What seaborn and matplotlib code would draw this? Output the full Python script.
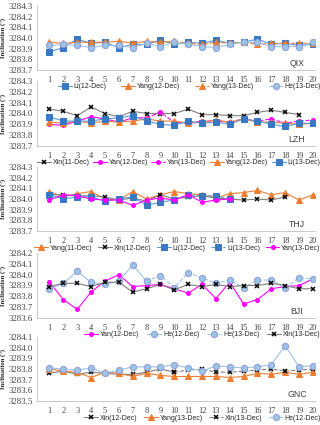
import numpy as np
import matplotlib.pyplot as plt
import seaborn as sns

nan = np.nan
points = list(range(1, 21))

# QIX
qix_li12 = [3283.87, 3283.91, 3283.99, 3283.95, 3283.96, 3283.91, 3283.94, 3283.94, 3283.98, 3283.94,
            3283.96, 3283.95, 3283.98, 3283.95, 3283.96, 3283.99, 3283.94, 3283.95, 3283.93, 3283.94]
qix_yang12 = [3283.96, 3283.95, 3283.96, 3283.96, 3283.96, 3283.97, 3283.95, 3283.97, 3283.96, 3283.97] + [nan] * 10
qix_yang13 = [nan] * 9 + [3283.97, 3283.95, 3283.94, 3283.96, 3283.95, 3283.96, 3283.94, 3283.95, 3283.95, 3283.95, 3283.95]
qix_he13 = [3283.93, 3283.94, 3283.93, 3283.91, 3283.93, 3283.93, 3283.91, 3283.95, 3283.92, 3283.96,
            3283.94, 3283.92, 3283.91, 3283.94, 3283.96, 3283.96, 3283.92, 3283.92, 3283.92, 3283.96]

# LZH
lzh_xin11 = [3284.04, 3284.02, 3283.98, 3284.06, 3284.00, 3283.97, 3284.02, 3284.00, 3284.00, 3284.00,
             3284.04, 3283.99, 3283.99, 3283.98, 3283.98, 3284.01, 3284.03, 3284.01, 3283.99, nan]
lzh_yan12 = [3283.90, 3283.89, 3283.93, 3283.97, 3283.95, 3283.92, 3283.96, 3283.96] + [nan] * 12
lzh_yan13 = [nan] * 7 + [3283.96, 3284.01, 3283.92, 3283.91, 3283.93, 3283.93, 3283.92, 3283.95, 3283.93,
                         3283.95, 3283.91, 3283.93, 3283.94]
lzh_yang12 = [3283.92, 3283.91, 3283.93, 3283.91, 3283.93, 3283.92, 3283.93, 3283.95, 3283.93, 3283.93,
              3283.91, 3283.92, 3283.94, 3283.92, 3283.95, 3283.92, 3283.92, 3283.91, 3283.90, 3283.91]
lzh_li13 = [3283.97, 3283.93, 3283.93, 3283.93, 3283.95, 3283.96, 3283.98, 3283.93, 3283.90, 3283.89,
            3283.93, 3283.91, 3283.92, 3283.90, 3283.95, 3283.93, 3283.90, 3283.88, 3283.91, 3283.91]

# THJ
thj_yang11 = [3284.07, 3284.02, 3284.05, 3284.07, 3284.00, 3283.99, 3284.07, 3284.00, 3284.04, 3284.07,
              3284.05, 3284.04, 3284.01, 3284.05, 3284.06, 3284.08, 3284.04, 3284.06, 3283.99, 3284.04]
thj_xin12 = [3284.04, 3284.04, 3284.03, 3284.03, 3284.02, 3283.99, 3284.01, 3283.98, 3284.04, 3284.00,
             3284.02, 3284.03, 3284.01, 3284.00, 3283.99, 3284.00, 3283.99, 3284.02, nan, nan]
thj_li12 = [3284.04, 3284.00, 3284.02, 3284.02, 3283.98, 3284.00, 3284.02, 3283.94, 3283.97, 3283.99] + [nan] * 10
thj_li13 = [nan] * 9 + [3283.99, 3284.04, 3284.03, 3284.03, 3284.00] + [nan] * 6
thj_yan13 = [3283.99, 3284.04, 3284.03, 3284.00, 3283.99, 3283.99, 3283.94, 3283.99, 3284.01, 3283.99,
             3284.04, 3283.97, 3283.99, 3284.00] + [nan] * 6

# BJI
bji_yan12 = [3283.93, 3283.77, 3283.68, 3283.84, 3283.94, 3284.00, 3283.89, 3283.90, 3283.91, 3283.87,
             3283.83, 3283.91, 3283.78, 3283.93, 3283.73, 3283.77, 3283.87, 3283.89, 3283.90, 3283.96]
bji_he12 = [3283.87, 3283.92, 3284.03, 3283.93, 3283.91, 3283.94, 3284.09, 3283.94] + [nan] * 12
bji_he13 = [nan] * 7 + [3283.94, 3283.99, 3283.88, 3284.02, 3283.97, 3283.92, 3283.95, 3283.88, 3283.95,
                        3283.95, 3283.88, 3283.97, 3283.96]
bji_xin13 = [3283.89, 3283.92, 3283.92, 3283.89, 3283.93, 3283.93, 3283.84, 3283.87, 3283.91, 3283.86,
             3283.91, 3283.89, 3283.91, 3283.89, 3283.90, 3283.90, 3283.92, 3283.90, 3283.87, 3283.87]

# GNC
gnc_xin12 = [3283.76, 3283.78, 3283.75, 3283.77, 3283.76, 3283.75, 3283.75, 3283.77, 3283.80, 3283.77] + [nan] * 10
gnc_yang13 = [3283.80, 3283.78, 3283.77, 3283.72, 3283.77, 3283.76, 3283.73, 3283.76, 3283.74, 3283.73,
              3283.73, 3283.73, 3283.73, 3283.72, 3283.73, 3283.76, 3283.75, 3283.77, 3283.75, 3283.77]
gnc_xin13 = [nan] * 9 + [3283.77, 3283.79, 3283.80, 3283.77, 3283.77, 3283.78, 3283.79, 3283.80, 3283.78,
                         3283.79, 3283.80]
gnc_he12 = [3283.81, 3283.80, 3283.79, 3283.81, 3283.76, 3283.79, 3283.82, 3283.82, 3283.82, 3283.84,
            3283.81, 3283.78, 3283.83, 3283.82, 3283.81, 3283.82, 3283.84, 3284.02, 3283.82, 3283.83]

# style per observer
STYLE = {
    'li':   dict(color='#5B9BD5', marker='s', markersize=4, markerfacecolor='#3A78C2', markeredgecolor='#3A78C2'),
    'yang': dict(color='#ED7D31', marker='^', markersize=4, markerfacecolor='#ED7D31', markeredgecolor='#ED7D31'),
    'he':   dict(color='#9DC3E6', marker='o', markersize=4.5, markerfacecolor='#9DC3E6', markeredgecolor='#8E9FD6'),
    'yan':  dict(color='#FF00FF', marker='o', markersize=2.8, markerfacecolor='#FF00FF', markeredgecolor='#FF00FF'),
    'xin':  dict(color='#7F7F7F', marker='x', markersize=3.5, markerfacecolor='black', markeredgecolor='black',
                 markeredgewidth=1.1),
}

panels = [
    ('QIX', (3283.7, 3284.3), 0.075, [
        (qix_li12, 'Li(12-Dec)', 'li', '-'),
        (qix_yang12, 'Yang(12-Dec)', 'yang', '-'),
        (qix_yang13, 'Yang(13-Dec)', 'yang', '--'),
        (qix_he13, 'He(13-Dec)', 'he', '-')]),
    ('LZH', (3283.7, 3284.3), 0.0, [
        (lzh_xin11, 'Xin(11-Dec)', 'xin', '-'),
        (lzh_yan12, 'Yan(12-Dec)', 'yan', '-'),
        (lzh_yan13, 'Yan(13-Dec)', 'yan', '--'),
        (lzh_yang12, 'Yang(12-Dec)', 'yang', '-'),
        (lzh_li13, 'Li(13-Dec)', 'li', '-')]),
    ('THJ', (3283.7, 3284.3), -0.01, [
        (thj_yang11, 'Yang(11-Dec)', 'yang', '-'),
        (thj_xin12, 'Xin(12-Dec)', 'xin', '-'),
        (thj_li12, 'Li(12-Dec)', 'li', '-'),
        (thj_li13, 'Li(13-Dec)', 'li', '--'),
        (thj_yan13, 'Yan(13-Dec)', 'yan', '-')]),
    ('BJI', (3283.6, 3284.2), 0.17, [
        (bji_yan12, 'Yan(12-Dec)', 'yan', '-'),
        (bji_he12, 'He(12-Dec)', 'he', '-'),
        (bji_he13, 'He(13-Dec)', 'he', '--'),
        (bji_xin13, 'Xin(13-Dec)', 'xin', '-')]),
    ('GNC', (3283.5, 3284.1), 0.17, [
        (gnc_xin12, 'Xin(12-Dec)', 'xin', '-'),
        (gnc_yang13, 'Yang(13-Dec)', 'yang', '-'),
        (gnc_xin13, 'Xin(13-Dec)', 'xin', '--'),
        (gnc_he12, 'He(12-Dec)', 'he', '-')]),
]

sns.set_style("white")
plt.rcParams['font.family'] = ['Liberation Serif', 'DejaVu Serif']

fig = plt.figure(figsize=(3.2, 4.25), dpi=100)

# axes boxes in pixels from top: (top, bottom)
boxes = [(6, 70), (81, 146), (167, 231), (253, 318), (337, 401)]
left, width = 37 / 320, 278 / 320

for (name, ylim, leg_x0, series), (top, bot) in zip(panels, boxes):
    ax = fig.add_axes([left, 1 - bot / 425, width, (bot - top) / 425])
    ax.set_facecolor('none')  # so the legend above is not hidden
    for vals, label, kind, ls in series:
        sns.lineplot(x=points, y=vals, ax=ax, label=label, linestyle=ls, linewidth=0.8, **STYLE[kind])

    ax.set_xlim(0.1, 20.15)
    ax.set_ylim(*ylim)
    ticks = np.round(np.arange(ylim[0], ylim[1] + 0.01, 0.1), 1)
    ax.set_yticks(ticks)
    ax.set_yticklabels([f'{t:.1f}' for t in ticks])
    ax.set_xticks(points)
    ax.tick_params(axis='y', length=0, pad=3, labelsize=6.3, colors='#404040')
    ax.tick_params(axis='x', length=2, width=0.5, color='#BFBFBF', pad=2, labelsize=6, colors='#404040')
    for s in ['top', 'right']:
        ax.spines[s].set_visible(False)
    for s in ['left', 'bottom']:
        ax.spines[s].set_color('#BFBFBF')
        ax.spines[s].set_linewidth(0.6)

    ax.set_xlabel('')
    ax.set_ylabel('Inclination (°)', fontsize=4.8, fontweight='bold')
    ax.yaxis.set_label_coords(-0.108, 0.5)

    ax.text(0.935, 0.1, name, transform=ax.transAxes, ha='center', va='center',
            fontsize=6.3, family=['Liberation Sans'], color='#404040')

    # legend sits in one row below the tick labels
    h = (bot - top)
    leg = ax.legend(loc='upper left', bbox_to_anchor=(leg_x0, -13.5 / h - 0.1, 1.02 - leg_x0, 0.1), mode='expand',
                    ncol=len(series), frameon=False, borderaxespad=0, borderpad=0,
                    handlelength=2.0, handletextpad=0.25, columnspacing=0.3,
                    prop={'family': 'Liberation Sans', 'size': 5.0})
    leg.set_zorder(10)

fig.savefig('out.png', dpi=100, facecolor='white')
